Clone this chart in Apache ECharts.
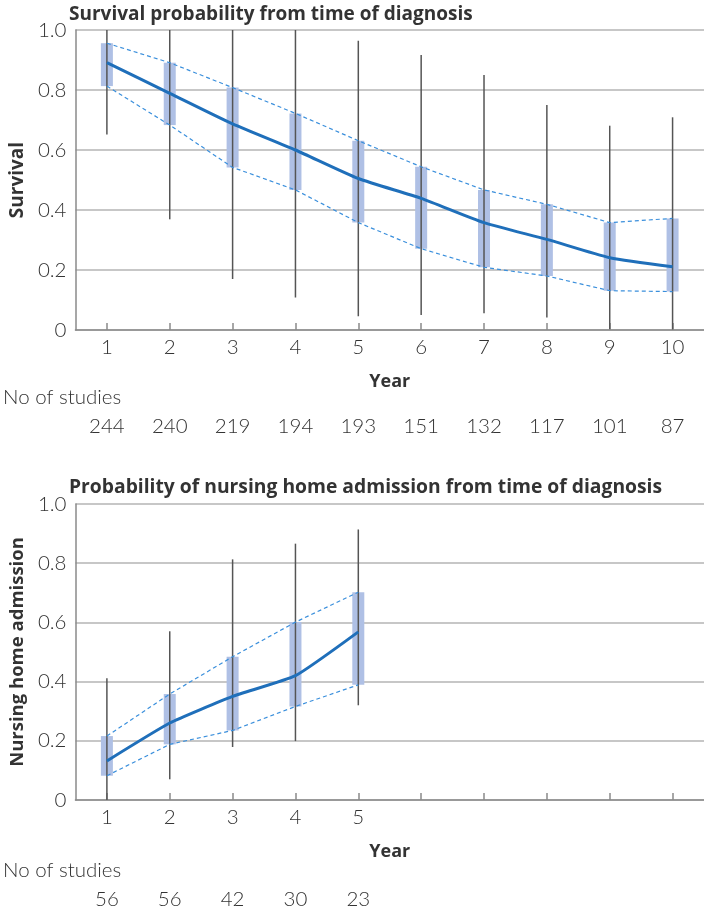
<!DOCTYPE html>
<html>
<head>
<meta charset="utf-8">
<script src="https://cdn.jsdelivr.net/npm/echarts@6/dist/echarts.min.js"></script>
<style>
html,body{margin:0;padding:0;background:#fff;}
#chart{width:704px;height:910px;}
</style>
</head>
<body>
<div id="chart"></div>
<script>
// ---- Data ----
const years = ['1','2','3','4','5','6','7','8','9','10'];
const yTicks = [0, 0.2, 0.4, 0.6, 0.8, 1.0];

// Survival panel
const survMain   = [0.891, 0.789, 0.687, 0.600, 0.505, 0.439, 0.358, 0.302, 0.241, 0.211];
const survBoxLo  = [0.813, 0.683, 0.542, 0.467, 0.358, 0.271, 0.209, 0.180, 0.131, 0.128];
const survBoxHi  = [0.956, 0.891, 0.808, 0.722, 0.631, 0.544, 0.467, 0.419, 0.358, 0.372];
const survWhLo   = [0.652, 0.369, 0.170, 0.108, 0.046, 0.050, 0.056, 0.042, 0.003, 0.002];
const survWhHi   = [1.000, 1.000, 1.000, 1.000, 0.964, 0.917, 0.850, 0.750, 0.681, 0.709];
const survStudies = ['244','240','219','194','193','151','132','117','101','87'];

// Nursing home panel
const nhMain   = [0.132, 0.260, 0.350, 0.420, 0.568];
const nhBoxLo  = [0.082, 0.188, 0.235, 0.316, 0.389];
const nhBoxHi  = [0.216, 0.358, 0.484, 0.601, 0.702];
const nhWhLo   = [0.000, 0.070, 0.179, 0.199, 0.320];
const nhWhHi   = [0.411, 0.570, 0.813, 0.866, 0.914];
const nhStudies = ['56','56','42','30','23'];

const titles = ['Survival probability from time of diagnosis',
                'Probability of nursing home admission from time of diagnosis'];
const yNames = ['Survival', 'Nursing home admission'];

// ---- Styles ----
const FONT = 'Lato';
const BFONT = 'Open Sans';
const C_TEXT = '#333';
const C_GRID = '#b4b4b4';
const C_AXIS = '#8a8a8a';
const C_BOX = '#afc0e5';
const C_MAIN = '#1f6fba';
const C_DASH = '#3a8fdc';
const C_WH = '#555';
const LBL = {fontFamily:FONT, fontWeight:300, fontSize:20.5, color:C_TEXT};

function pairs(lo, hi){ return lo.map((v,i)=>[i, v, hi[i]]); }

function boxRender(params, api){
  const i = api.value(0);
  const a = api.coord([i, api.value(1)]);
  const b = api.coord([i, api.value(2)]);
  return {type:'rect', shape:{x:a[0]-6, y:b[1], width:12, height:a[1]-b[1]}, style:{fill:C_BOX}};
}
function whRender(params, api){
  const i = api.value(0);
  const a = api.coord([i, api.value(1)]);
  const b = api.coord([i, api.value(2)]);
  return {type:'line', shape:{x1:a[0], y1:a[1], x2:b[0], y2:b[1]}, style:{stroke:C_WH, lineWidth:1.5}};
}

const gridDefs = [
  {left:67, right:0, top:30, height:300},
  {left:67, right:0, top:504, height:298.5}
];

function yAxis(gi, fs){
  return {
    type:'value', gridIndex:gi, min:0, max:1, interval:0.2,
    name: yNames[gi], nameLocation:'middle', nameGap:48, nameRotate:90,
    nameTextStyle:{fontFamily:BFONT, fontWeight:'bold', fontSize:fs, color:C_TEXT},
    axisLine:{show:true, lineStyle:{color:C_AXIS, width:1.5}},
    axisTick:{show:false},
    splitLine:{show:true, lineStyle:{color:C_GRID, width:1.5}},
    axisLabel:Object.assign({}, LBL, {margin:9,
      formatter: v => (v === 0 ? '0' : v.toFixed(1))})
  };
}

function xAxisMain(gi, nLabels){
  return {
    type:'category', gridIndex:gi, data:years, boundaryGap:true,
    name:'Year', nameLocation:'middle', nameGap:43,
    nameTextStyle:{fontFamily:BFONT, fontWeight:'bold', fontSize:18, color:C_TEXT},
    axisLine:{show:true, lineStyle:{color:C_AXIS, width:1.5}},
    axisTick:{show:true, alignWithLabel:true, inside:true, length:7, lineStyle:{color:C_AXIS, width:1.5}},
    axisLabel:Object.assign({}, LBL, {margin:7, interval:0,
      formatter:(v, idx) => (idx < nLabels ? v : '')}),
    splitLine:{show:false}
  };
}
function xAxisCounts(gi, counts, offset){
  return {
    type:'category', gridIndex:gi, position:'bottom', offset:offset,
    data: years.map((y,i)=> counts[i] !== undefined ? counts[i] : ''),
    boundaryGap:true,
    axisLine:{show:false}, axisTick:{show:false}, splitLine:{show:false},
    axisLabel:Object.assign({}, LBL, {margin:7, interval:0})
  };
}

const option = {
  animation:false,
  backgroundColor:'#fff',
  title:[
    {text:titles[0], left:64, top:0, textStyle:{fontFamily:BFONT, fontWeight:'bold', fontSize:19, color:C_TEXT}},
    {text:titles[1], left:64, top:473, textStyle:{fontFamily:BFONT, fontWeight:'bold', fontSize:19.3, color:C_TEXT}}
  ],
  grid: gridDefs,
  xAxis:[ xAxisMain(0, 10), xAxisCounts(0, survStudies, 79),
          xAxisMain(1, 5),  xAxisCounts(1, nhStudies, 82) ],
  yAxis:[ yAxis(0, 19), yAxis(1, 18.5) ],
  graphic:[
    {type:'text', left:3, top:387, style:{text:'No of studies', fontFamily:FONT, fontWeight:300, fontSize:20.5, fill:C_TEXT}},
    {type:'text', left:3, top:860, style:{text:'No of studies', fontFamily:FONT, fontWeight:300, fontSize:20.5, fill:C_TEXT}}
  ],
  series:[
    // survival
    {type:'custom', xAxisIndex:0, yAxisIndex:0, renderItem:boxRender, data:pairs(survBoxLo, survBoxHi), z:2},
    {type:'custom', xAxisIndex:0, yAxisIndex:0, renderItem:whRender, data:pairs(survWhLo, survWhHi), z:3},
    {type:'line', xAxisIndex:0, yAxisIndex:0, data:survBoxHi, symbol:'none', z:4,
      lineStyle:{color:C_DASH, width:1.2, type:[4,3]}},
    {type:'line', xAxisIndex:0, yAxisIndex:0, data:survBoxLo, symbol:'none', z:4,
      lineStyle:{color:C_DASH, width:1.2, type:[4,3]}},
    {type:'line', xAxisIndex:0, yAxisIndex:0, data:survMain, symbol:'none', smooth:0.2, z:5,
      lineStyle:{color:C_MAIN, width:3}},
    // nursing home
    {type:'custom', xAxisIndex:2, yAxisIndex:1, renderItem:boxRender, data:pairs(nhBoxLo, nhBoxHi), z:2},
    {type:'custom', xAxisIndex:2, yAxisIndex:1, renderItem:whRender, data:pairs(nhWhLo, nhWhHi), z:3},
    {type:'line', xAxisIndex:2, yAxisIndex:1, data:nhBoxHi, symbol:'none', z:4,
      lineStyle:{color:C_DASH, width:1.2, type:[4,3]}},
    {type:'line', xAxisIndex:2, yAxisIndex:1, data:nhBoxLo, symbol:'none', z:4,
      lineStyle:{color:C_DASH, width:1.2, type:[4,3]}},
    {type:'line', xAxisIndex:2, yAxisIndex:1, data:nhMain, symbol:'none', smooth:0.15, z:5,
      lineStyle:{color:C_MAIN, width:3}}
  ]
};

const chart = echarts.init(document.getElementById('chart'), null, {renderer:'canvas'});
chart.setOption(option);
</script>
</body>
</html>
